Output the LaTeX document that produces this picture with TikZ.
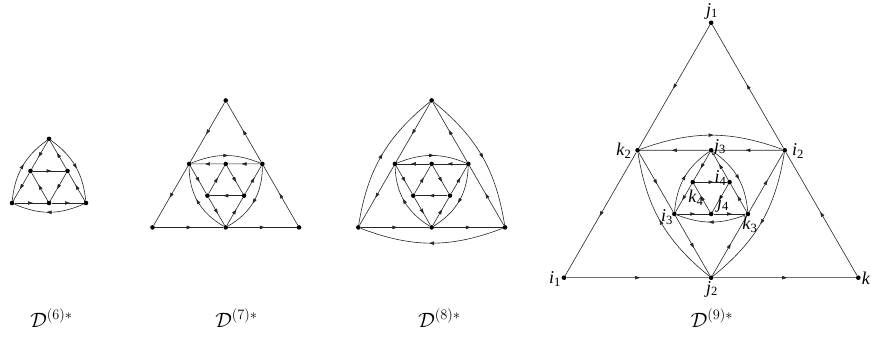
\documentclass[tikz,border=0pt]{standalone}
\usepackage{fontspec}
\setmainfont{Liberation Serif}
\usetikzlibrary{decorations.markings,arrows.meta,calc}
\newcommand\lbl[2]{\textit{#1}\textsubscript{#2}}
\begin{document}
\begin{tikzpicture}[x=1pt,y=-1pt,
  ln/.style={line width=0.6pt, draw=black!85},
  arr/.style={ln, postaction={decorate}, decoration={markings,
     mark=at position 0.5 with {\arrow[xshift=2.5pt]{Triangle[length=5pt,width=3.4pt]}}}},
  bendarc/.style={arr, bend left=#1},
  bendarc/.default=22,
  vdot/.style={circle, fill=black, inner sep=0pt, minimum size=4.6pt},
  lab/.style={font=\fontsize{18}{20}\selectfont, inner sep=0pt},
  captxt/.style={font=\fontsize{21}{24}\selectfont, inner sep=0pt}]
\useasboundingbox (0,0) rectangle (871,339);

% ---------- D6 ----------
\node[vdot] (aL) at (12,203) {};
\node[vdot] (aR) at (86,203) {};
\node[vdot] (aT) at (49,138.9) {};
\node[vdot] (aML) at ($(aT)!0.5!(aL)$) {};
\node[vdot] (aMR) at ($(aT)!0.5!(aR)$) {};
\node[vdot] (aMB) at ($(aL)!0.5!(aR)$) {};
\draw[arr] (aL) -- (aMB); \draw[arr] (aMB) -- (aR);
\draw[arr] (aR) -- (aMR); \draw[arr] (aMR) -- (aT);
\draw[arr] (aT) -- (aML); \draw[arr] (aML) -- (aL);
\draw[bendarc=24] (aL) to (aT); \draw[bendarc=24] (aT) to (aR); \draw[bendarc=24] (aR) to (aL);
\draw[arr] (aML) -- (aMR); \draw[arr] (aMR) -- (aMB); \draw[arr] (aMB) -- (aML);
\node[captxt] (capa) at (51.5,318) {$\mathcal{D}^{(6)*}$};

% ---------- D7 ----------
\node[vdot] (bL) at (152.5,227.4) {};
\node[vdot] (bR) at (299,227.4) {};
\node[vdot] (bT) at (225.75,100.5) {};
\node[vdot] (bML) at ($(bT)!0.5!(bL)$) {};
\node[vdot] (bMR) at ($(bT)!0.5!(bR)$) {};
\node[vdot] (bMB) at ($(bL)!0.5!(bR)$) {};
\node[vdot] (bA) at ($(bML)!0.5!(bMR)$) {};
\node[vdot] (bB) at ($(bML)!0.5!(bMB)$) {};
\node[vdot] (bC) at ($(bMR)!0.5!(bMB)$) {};
\draw[arr] (bL) -- (bMB); \draw[arr] (bMB) -- (bR);
\draw[arr] (bR) -- (bMR); \draw[arr] (bMR) -- (bT);
\draw[arr] (bT) -- (bML); \draw[arr] (bML) -- (bL);
\draw[arr] (bMR) -- (bA); \draw[arr] (bA) -- (bML);
\draw[arr] (bML) -- (bB); \draw[arr] (bB) -- (bMB);
\draw[arr] (bMB) -- (bC); \draw[arr] (bC) -- (bMR);
\draw[bendarc=22] (bML) to (bMR); \draw[bendarc=30] (bMB) to (bML); \draw[bendarc=30] (bMR) to (bMB);
\draw[arr] (bC) -- (bB); \draw[arr] (bB) -- (bA); \draw[arr] (bA) -- (bC);
\node[captxt] (capb) at (236.5,318) {$\mathcal{D}^{(7)*}$};

% ---------- D8 ----------
\node[vdot] (cL) at (358.3,227.4) {};
\node[vdot] (cR) at (505,227.4) {};
\node[vdot] (cT) at (431.65,100.4) {};
\node[vdot] (cML) at ($(cT)!0.5!(cL)$) {};
\node[vdot] (cMR) at ($(cT)!0.5!(cR)$) {};
\node[vdot] (cMB) at ($(cL)!0.5!(cR)$) {};
\node[vdot] (cA) at ($(cML)!0.5!(cMR)$) {};
\node[vdot] (cB) at ($(cML)!0.5!(cMB)$) {};
\node[vdot] (cC) at ($(cMR)!0.5!(cMB)$) {};
\draw[arr] (cL) -- (cMB); \draw[arr] (cMB) -- (cR);
\draw[arr] (cR) -- (cMR); \draw[arr] (cMR) -- (cT);
\draw[arr] (cT) -- (cML); \draw[arr] (cML) -- (cL);
\draw[bendarc=21] (cL) to (cT); \draw[bendarc=21] (cT) to (cR); \draw[bendarc=21] (cR) to (cL);
\draw[arr] (cMR) -- (cA); \draw[arr] (cA) -- (cML);
\draw[arr] (cML) -- (cB); \draw[arr] (cB) -- (cMB);
\draw[arr] (cMB) -- (cC); \draw[arr] (cC) -- (cMR);
\draw[bendarc=22] (cML) to (cMR); \draw[bendarc=28] (cMB) to (cML); \draw[bendarc=28] (cMR) to (cMB);
\draw[arr] (cC) -- (cB); \draw[arr] (cB) -- (cA); \draw[arr] (cA) -- (cC);
\node[captxt] (capc) at (439.5,318) {$\mathcal{D}^{(8)*}$};

% ---------- D9 ----------
\node[vdot] (dL) at (564,277.7) {};
\node[vdot] (dR) at (858.3,277.7) {};
\node[vdot] (dT) at (711.15,22.8) {};
\node[vdot] (dML) at ($(dT)!0.5!(dL)$) {};
\node[vdot] (dMR) at ($(dT)!0.5!(dR)$) {};
\node[vdot] (dMB) at ($(dL)!0.5!(dR)$) {};
\node[vdot] (dA) at ($(dML)!0.5!(dMR)$) {};
\node[vdot] (dB) at ($(dML)!0.5!(dMB)$) {};
\node[vdot] (dC) at ($(dMR)!0.5!(dMB)$) {};
\node[vdot] (dD) at ($(dA)!0.5!(dB)$) {};
\node[vdot] (dE) at ($(dA)!0.5!(dC)$) {};
\node[vdot] (dF) at ($(dB)!0.5!(dC)$) {};
\draw[arr] (dL) -- (dMB); \draw[arr] (dMB) -- (dR);
\draw[arr] (dR) -- (dMR); \draw[arr] (dMR) -- (dT);
\draw[arr] (dT) -- (dML); \draw[arr] (dML) -- (dL);
\draw[arr] (dMR) -- (dA); \draw[arr] (dA) -- (dML);
\draw[arr] (dML) -- (dB); \draw[arr] (dB) -- (dMB);
\draw[arr] (dMB) -- (dC); \draw[arr] (dC) -- (dMR);
\draw[bendarc=20] (dML) to (dMR); \draw[bendarc=21] (dMB) to (dML); \draw[bendarc=21] (dMR) to (dMB);
\draw[arr] (dB) -- (dF); \draw[arr] (dF) -- (dC);
\draw[arr] (dC) -- (dE); \draw[arr] (dE) -- (dA);
\draw[arr] (dA) -- (dD); \draw[arr] (dD) -- (dB);
\draw[bendarc=21] (dC) to (dB); \draw[bendarc=25] (dB) to (dA); \draw[bendarc=25] (dA) to (dC);
\draw[arr] (dD) -- (dE); \draw[arr] (dE) -- (dF); \draw[arr] (dF) -- (dD);
% labels
\node[lab] (lj1) at (712,11) {\lbl{j}{1}};
\node[lab] (li1) at (555,279) {\lbl{i}{1}};
\node[lab] (lk) at (866,278) {\textit{k}};
\node[lab] (lj2) at (712,289) {\lbl{j}{2}};
\node[lab] (lk2) at (624,151) {\lbl{k}{2}};
\node[lab] (li2) at (798,151) {\lbl{i}{2}};
\node[lab] (lj3) at (720,147) {\lbl{j}{3}};
\node[lab] (li3) at (667,217) {\lbl{i}{3}};
\node[lab] (lk3) at (750,225) {\lbl{k}{3}};
\node[lab] (li4) at (720.5,178) {\lbl{i}{4}};
\node[lab] (lk4) at (696,198) {\lbl{k}{4}};
\node[lab] (lj4) at (723,204) {\lbl{j}{4}};
\node[captxt] (capd) at (712,318) {$\mathcal{D}^{(9)*}$};
\end{tikzpicture}
\end{document}
